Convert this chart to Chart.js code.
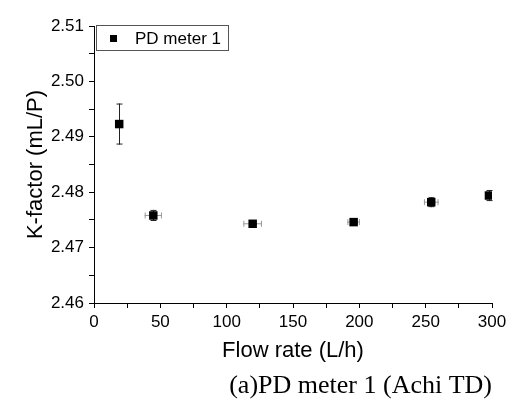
<!DOCTYPE html>
<html>
<head>
<meta charset="utf-8">
<script src="https://cdn.jsdelivr.net/npm/chart.js@4.4.0/dist/chart.umd.min.js"></script>
<style>
    html, body { margin: 0; padding: 0; background: #fff; }
</style>
</head>
<body>
<canvas id="myChart" width="519" height="402"></canvas>
<script>
// data
const flowRates = [19, 44.7, 119.6, 195.7, 254.2, 297.7];
const kFactors = [2.4923, 2.4758, 2.4743, 2.4746, 2.4782, 2.4794];
const kErrors = [0.0037, 0.0010, 0.0002, 0.0003, 0.0009, 0.0010];
const flowErrors = [0, 6.5, 7, 4.7, 5.5, 0];
const seriesName = 'PD meter 1';
const xTitle = 'Flow rate (L/h)';
const yTitle = 'K-factor (mL/P)';
const caption = '(a)PD meter 1 (Achi TD)';

const sans = "'Liberation Sans', Arial, sans-serif";
const serif = "'Liberation Serif', 'Times New Roman', serif";

const ctx = document.getElementById('myChart').getContext('2d');

// error bars drawn under the markers
const errorBars = {
    id: 'errorBars',
    beforeDatasetsDraw: function (chart) {
        var c = chart.ctx, xs = chart.scales.x, ys = chart.scales.y;
        c.save();
        c.lineWidth = 1;
        flowRates.forEach(function (x, i) {
            var px = xs.getPixelForValue(x);
            var py = ys.getPixelForValue(kFactors[i]);
            if (flowErrors[i] > 0) {
                var l = xs.getPixelForValue(x - flowErrors[i]);
                var r = xs.getPixelForValue(x + flowErrors[i]);
                c.strokeStyle = '#999';
                c.beginPath();
                c.moveTo(l, py); c.lineTo(r, py);
                c.moveTo(l + 0.5, py - 3); c.lineTo(l + 0.5, py + 3);
                c.moveTo(r - 0.5, py - 3); c.lineTo(r - 0.5, py + 3);
                c.stroke();
            }
            if (kErrors[i] > 0) {
                var t = ys.getPixelForValue(kFactors[i] + kErrors[i]);
                var b = ys.getPixelForValue(kFactors[i] - kErrors[i]);
                var cx = Math.round(px) + 0.5;
                c.strokeStyle = '#222';
                c.beginPath();
                c.moveTo(cx, t); c.lineTo(cx, b);
                c.moveTo(cx - 3, t + 0.5); c.lineTo(cx + 3, t + 0.5);
                c.moveTo(cx - 3, b - 0.5); c.lineTo(cx + 3, b - 0.5);
                c.stroke();
            }
        });
        c.restore();
    }
};

// framed legend in the upper left corner of the plot
const boxLegend = {
    id: 'boxLegend',
    afterDraw: function (chart) {
        var c = chart.ctx, a = chart.chartArea;
        c.save();
        c.strokeStyle = '#555';
        c.lineWidth = 1;
        c.strokeRect(a.left + 2.5, a.top - 0.5, 132, 25);
        c.fillStyle = '#000';
        c.fillRect(a.left + 16, a.top + 9, 7, 7);
        c.font = '17px ' + sans;
        c.textBaseline = 'middle';
        c.fillText(seriesName, a.left + 41, a.top + 13);
        c.restore();
    }
};

const config = {
    type: 'scatter',
    data: {
        datasets: [{
            label: seriesName,
            data: flowRates.map(function (x, i) {
                return { x: x, y: kFactors[i] };
            }),
            pointStyle: 'rect',
            pointRadius: 6,
            pointHoverRadius: 6,
            backgroundColor: '#000',
            borderColor: '#000',
            borderWidth: 0
        }]
    },
    options: {
        responsive: false,
        animation: false,
        devicePixelRatio: 1,
        layout: { padding: { top: 26, right: 27, left: 0, bottom: 0 } },
        plugins: {
            legend: { display: false },
            tooltip: { enabled: false },
            title: {
                display: true,
                text: caption,
                position: 'bottom',
                align: 'end',
                fullSize: false,
                color: '#000',
                font: { family: serif, size: 26, weight: 'normal' },
                padding: { top: 0, bottom: 0.4 }
            }
        },
        scales: {
            x: {
                type: 'linear',
                min: 0,
                max: 300,
                afterFit: function (s) { s.height = 67.4; },
                ticks: {
                    stepSize: 25,
                    autoSkip: false,
                    maxRotation: 0,
                    color: '#000',
                    padding: 4,
                    font: { family: sans, size: 17 },
                    callback: function (v) { return v % 50 === 0 ? v : ''; }
                },
                grid: { drawOnChartArea: false, drawTicks: true, tickLength: 5, tickColor: '#000' },
                border: { color: '#000', width: 1 },
                title: {
                    display: true,
                    text: xTitle,
                    color: '#000',
                    font: { family: sans, size: 22 },
                    padding: { top: 0, bottom: 6.2 }
                }
            },
            y: {
                min: 2.46,
                max: 2.51,
                afterFit: function (s) { s.width = 94; },
                ticks: {
                    stepSize: 0.005,
                    autoSkip: false,
                    color: '#000',
                    padding: 5,
                    font: { family: sans, size: 17 },
                    callback: function (v) {
                        return Math.round(v * 1000) % 10 === 0 ? v.toFixed(2) : '';
                    }
                },
                grid: { drawOnChartArea: false, drawTicks: true, tickLength: 5, tickColor: '#000' },
                border: { color: '#000', width: 1 },
                title: {
                    display: true,
                    text: yTitle,
                    color: '#000',
                    font: { family: sans, size: 22 },
                    padding: { top: 22.8, bottom: 0 }
                }
            }
        }
    },
    plugins: [errorBars, boxLegend]
};

new Chart(ctx, config);
</script>
</body>
</html>
